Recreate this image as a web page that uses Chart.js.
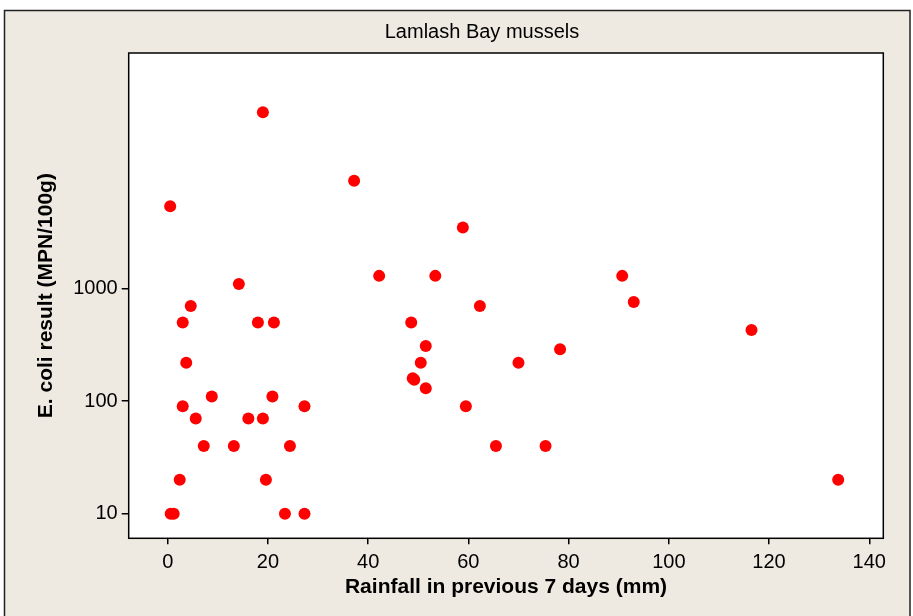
<!DOCTYPE html>
<html>
<head>
<meta charset="utf-8">
<title>Lamlash Bay mussels</title>
<script src="https://cdn.jsdelivr.net/npm/chart.js@4/dist/chart.umd.min.js"></script>
<style>
  html, body { margin: 0; padding: 0; background: #ffffff; }
</style>
</head>
<body>
<canvas id="graficoMejillones" width="913" height="616"></canvas>
<script>
// Datos
const lluvia = [0.5, 19.0, 37.2, 58.9, 42.2, 53.4, 90.7, 14.2, 4.6, 62.3, 93.0,
                3.0, 18.0, 21.2, 48.6, 116.5, 51.5, 78.3, 3.7, 50.5, 70.0,
                48.9, 49.2, 51.5, 8.8, 20.9, 3.0, 27.3, 59.5, 5.6, 16.1, 19.0,
                7.2, 13.2, 24.4, 65.5, 75.4, 2.4, 19.6, 133.8, 0.6, 1.2, 23.4, 27.3];
const ecoli = [5400, 37000, 9100, 3500, 1300, 1300, 1300, 1100, 700, 700, 760,
               500, 500, 500, 500, 430, 310, 290, 220, 220, 220,
               160, 155, 130, 110, 110, 90, 90, 90, 70, 70, 70,
               40, 40, 40, 40, 40, 20, 20, 20, 10, 10, 10, 10];
const ticksX = [0, 20, 40, 60, 80, 100, 120, 140];
const ticksY = [10, 100, 1000];
const titulo = 'Lamlash Bay mussels';

const fuente = 'Liberation Sans, Arial, sans-serif';

// Fondo beige con marco, área del gráfico en blanco con borde negro, y el título
const fondo = {
    id: 'fondo',
    beforeDraw(chart) {
        const ctx = chart.ctx;
        const a = chart.chartArea;
        ctx.save();
        ctx.fillStyle = '#ffffff';
        ctx.fillRect(0, 0, chart.width, chart.height);
        ctx.fillStyle = '#eeeae1';
        ctx.fillRect(4, 10.5, 906, chart.height);
        ctx.strokeStyle = '#222222';
        ctx.lineWidth = 1.5;
        ctx.strokeRect(4.5, 10.5, 905.5, chart.height + 10);
        ctx.fillStyle = '#ffffff';
        ctx.fillRect(a.left, a.top, a.width, a.height);
        // título, centrado sobre el marco como en el original
        ctx.fillStyle = '#000000';
        ctx.font = '20px ' + fuente;
        ctx.textAlign = 'center';
        ctx.textBaseline = 'middle';
        ctx.fillText(titulo, 482, 32.4);
        ctx.restore();
    },
    afterDraw(chart) {
        const ctx = chart.ctx;
        const a = chart.chartArea;
        ctx.save();
        ctx.strokeStyle = '#000000';
        ctx.lineWidth = 1.5;
        ctx.strokeRect(a.left, a.top, a.width, a.height);
        ctx.restore();
    }
};

const config = {
    type: 'scatter',
    data: {
        datasets: [{
            data: lluvia.map((x, i) => ({ x: x, y: ecoli[i] })),
            backgroundColor: '#ff0000',
            borderWidth: 0,
            pointRadius: 6,
            pointHoverRadius: 6
        }]
    },
    options: {
        responsive: false,
        animation: false,
        events: [],
        layout: { padding: { left: 0, right: 29.7, top: 53, bottom: 0 } },
        plugins: {
            legend: { display: false },
            tooltip: { enabled: false },
            title: { display: false }
        },
        scales: {
            x: {
                type: 'linear',
                min: -7.78,
                max: 142.8,
                afterBuildTicks: s => { s.ticks = ticksX.map(v => ({ value: v })); },
                afterFit: s => { s.height = 77.7; },
                border: { display: false },
                grid: { display: true, drawOnChartArea: false, drawTicks: true, tickLength: 6, color: '#000000', lineWidth: 1.5 },
                ticks: {
                    color: '#000000',
                    font: { family: fuente, size: 20 },
                    padding: 6,
                    maxRotation: 0,
                    autoSkip: false,
                    callback: v => String(v)
                },
                title: {
                    display: true,
                    text: 'Rainfall in previous 7 days (mm)',
                    color: '#000000',
                    font: { family: fuente, size: 21, weight: 'bold' },
                    padding: { top: 0, bottom: 15.7 }
                }
            },
            y: {
                type: 'logarithmic',
                min: 6.04,
                max: 124500,
                afterBuildTicks: s => { s.ticks = ticksY.map(v => ({ value: v })); },
                afterFit: s => { s.width = 128.7; },
                border: { display: false },
                grid: { display: true, drawOnChartArea: false, drawTicks: true, tickLength: 7, color: '#000000', lineWidth: 1.5 },
                ticks: {
                    color: '#000000',
                    font: { family: fuente, size: 20 },
                    padding: 4,
                    autoSkip: false,
                    callback: v => String(v)
                },
                title: {
                    display: true,
                    text: 'E. coli result (MPN/100g)',
                    color: '#000000',
                    font: { family: fuente, size: 21, weight: 'bold' },
                    padding: { top: 34, bottom: 0 }
                }
            }
        }
    },
    plugins: [fondo]
};

const ctx = document.getElementById('graficoMejillones').getContext('2d');
const graficoMejillones = new Chart(ctx, config);
</script>
</body>
</html>
